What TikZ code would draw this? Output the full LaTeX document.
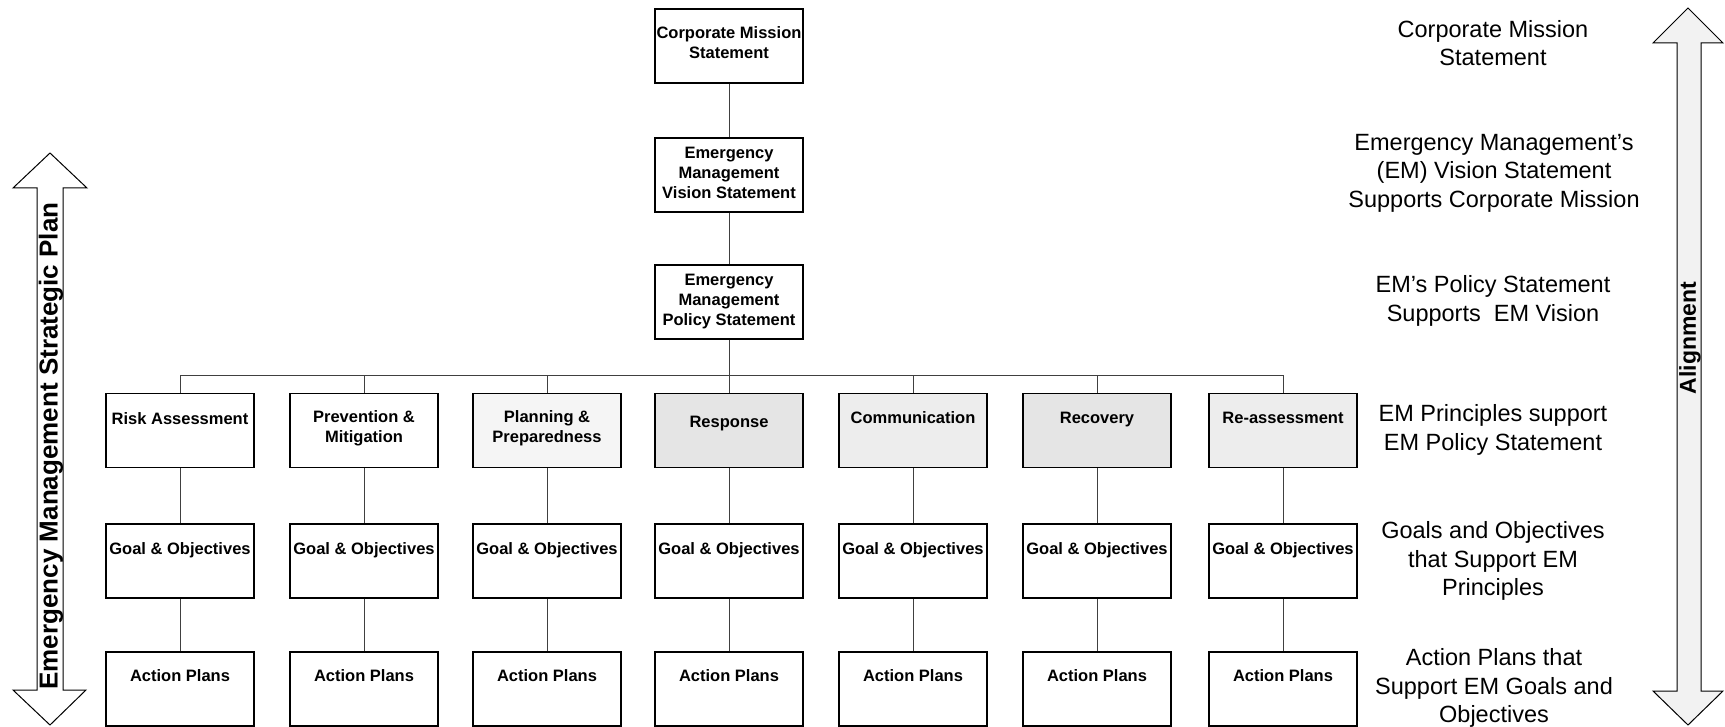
\documentclass[tikz,border=0pt]{standalone}
\usepackage{fontspec}
\setmainfont{Liberation Sans}
\begin{document}
\begin{tikzpicture}[x=1pt,y=-1pt,
  box/.style={draw=black, line width=1.2pt, minimum width=148pt, minimum height=74pt, inner sep=0pt},
  btxt/.style={font=\bfseries\fontsize{16.5}{20}\selectfont, align=center, inner sep=0pt, anchor=north},
  conn/.style={draw=black!75, line width=0.7pt},
  rtxt/.style={font=\fontsize{23.5}{28.5}\selectfont, align=center, inner sep=0pt},
  bigarrow/.style={draw=black, line width=1pt, line join=miter},
  arrtxt/.style={font=\bfseries\fontsize{26}{30}\selectfont, rotate=90, inner sep=0pt}
]
\useasboundingbox (0,0) rectangle (1725,727);

% arrows
\draw[bigarrow, fill=white] (50,153) -- (87,188) -- (63,188) -- (63,690) -- (86,690) -- (50,725)
  -- (13,690) -- (37,690) -- (37,188) -- (13,188) -- cycle;
\node[arrtxt] (lefttxt) at (51,446) {Emergency Management Strategic Plan};

\draw[bigarrow, fill=black!5] (1688,8) -- (1723,43) -- (1701,43) -- (1701,691) -- (1723,691) -- (1688,725)
  -- (1653,691) -- (1677,691) -- (1677,43) -- (1653,43) -- cycle;
\node[arrtxt, font=\bfseries\fontsize{23}{28}\selectfont] (aligntxt) at (1690,338) {Alignment};

% top chain
\node[box] (mission) at (729,46) {};
\node[btxt] (tmission) at ([yshift=-18pt]mission.north) {Corporate Mission\\Statement};
\node[box] (vision) at (729,175) {};
\node[btxt] (tvision) at ([yshift=-10pt]vision.north) {Emergency\\Management\\Vision Statement};
\node[box] (policy) at (729,302) {};
\node[btxt] (tpolicy) at ([yshift=-10pt]policy.north) {Emergency\\Management\\Policy Statement};

% principles
\node[box] (p1) at (180,430.5) {};
\node[box] (p2) at (364,430.5) {};
\node[box, fill=black!4] (p3) at (547,430.5) {};
\node[box, fill=black!10] (p4) at (729,430.5) {};
\node[box, fill=black!7] (p5) at (913,430.5) {};
\node[box, fill=black!10] (p6) at (1097,430.5) {};
\node[box, fill=black!7] (p7) at (1283,430.5) {};
\node[btxt] (tp1) at ([yshift=-19pt]p1.north) {Risk Assessment};
\node[btxt] (tp2) at ([yshift=-17pt]p2.north) {Prevention \&\\Mitigation};
\node[btxt] (tp3) at ([yshift=-17pt]p3.north) {Planning \&\\Preparedness};
\node[btxt] (tp4) at ([yshift=-23pt]p4.north) {Response};
\node[btxt] (tp5) at ([yshift=-18pt]p5.north) {Communication};
\node[btxt] (tp6) at ([yshift=-19pt]p6.north) {Recovery};
\node[btxt] (tp7) at ([yshift=-19pt]p7.north) {Re-assessment};

% goals and actions
\foreach \i/\x in {1/180,2/364,3/547,4/729,5/913,6/1097,7/1283}{
  \node[box] (g\i) at (\x,561) {};
  \node[btxt] (tg\i) at ([yshift=-19pt]g\i.north) {Goal \& Objectives};
  \node[box] (a\i) at (\x,689) {};
  \node[btxt] (ta\i) at ([yshift=-18pt]a\i.north) {Action Plans};
}

% connectors
\coordinate (bus) at (729,375);
\draw[conn] (mission) -- (vision);
\draw[conn] (vision) -- (policy);
\draw[conn] (policy) -- (bus);
\foreach \i in {1,...,7}{
  \draw[conn] (bus) -| (p\i);
  \draw[conn] (p\i) -- (g\i);
  \draw[conn] (g\i) -- (a\i);
}

% right column
\node[rtxt] (r1) at (1493,43) {Corporate Mission\\Statement};
\node[rtxt] (r2) at (1494,173) {Emergency Management's\\(EM) Vision Statement\\Supports Corporate Mission};
\node[rtxt] (r3) at (1493,301) {EM's Policy Statement\\Supports\ \ EM Vision};
\node[rtxt] (r4) at (1493,430) {EM Principles support\\EM Policy Statement};
\node[rtxt] (r5) at (1493,561) {Goals and Objectives\\that Support EM\\Principles};
\node[rtxt] (r6) at (1494,688) {Action Plans that\\Support EM Goals and\\Objectives};
\end{tikzpicture}
\end{document}
